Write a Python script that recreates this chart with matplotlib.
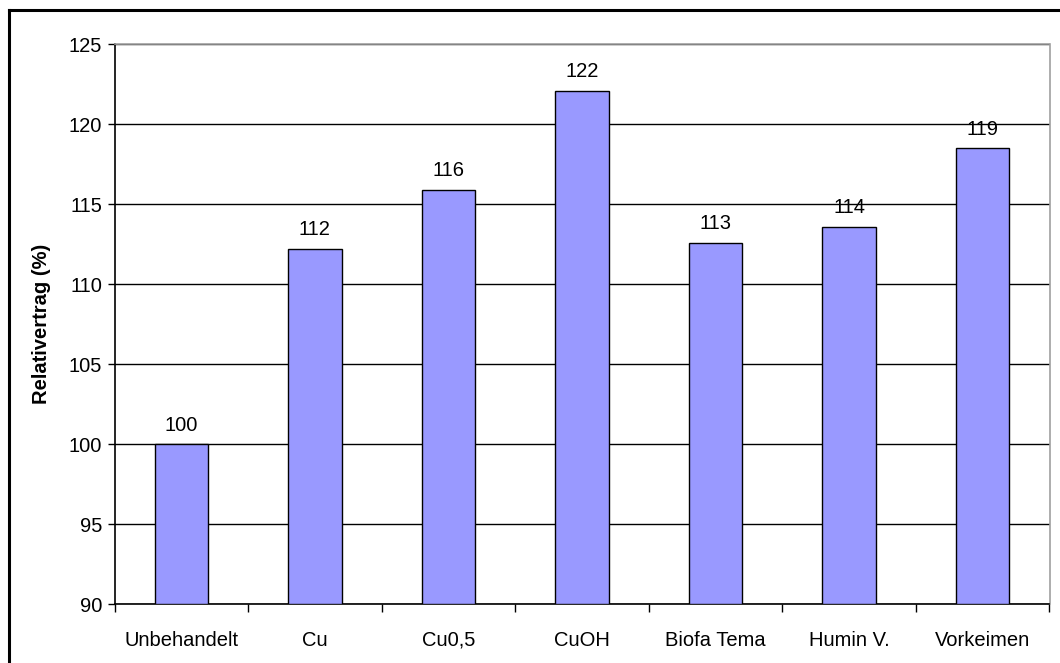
from matplotlib import pyplot as plt
from matplotlib.lines import Line2D

plt.rcParams['font.family'] = ['Liberation Sans', 'DejaVu Sans']

categories = ["Unbehandelt", "Cu", "Cu0,5", "CuOH", "Biofa Tema", "Humin V.", "Vorkeimen"]
values = [100.0, 112.2, 115.9, 122.1, 112.6, 113.6, 118.5]
bar_labels = ["100", "112", "116", "122", "113", "114", "119"]
yticks = [90, 95, 100, 105, 110, 115, 120, 125]

W, H = 1060, 663
fig = plt.figure(figsize=(W / 100, H / 100), dpi=100)
ax = fig.add_axes([114.5 / W, 1 - 604.3 / H, (1049.5 - 114.5) / W, (604.3 - 44.3) / H])

x = list(range(len(categories)))
ax.bar(x, [v - 90 for v in values], bottom=90, width=0.4, color="#9999FF",
       edgecolor="black", linewidth=1.0, zorder=3)

fs = 14.5
for xi, v, lab in zip(x, values, bar_labels):
    ax.annotate(lab, (xi, v), xytext=(0, 7), textcoords="offset points",
                ha="center", va="bottom", fontsize=fs, zorder=4)

ax.set_xlim(-0.5, len(categories) - 0.5)
ax.set_ylim(90, 125)
ax.set_yticks(yticks)
ax.tick_params(axis="y", length=5, width=1, labelsize=fs, pad=4, direction="out")
ax.yaxis.grid(True, color="black", linewidth=1, zorder=0)
ax.set_axisbelow(True)

# category labels centred, ticks on the boundaries
ax.set_xticks(x)
ax.set_xticklabels(categories, fontsize=fs)
ax.tick_params(axis="x", which="major", length=0, pad=19)
ax.set_xticks([i - 0.5 for i in range(len(categories) + 1)], minor=True)
ax.tick_params(axis="x", which="minor", length=6, width=1, direction="out")

ax.set_ylabel("Relativertrag (%)", fontsize=fs, fontweight="bold", labelpad=13)

ax.spines["left"].set_color("black")
ax.spines["bottom"].set_color("black")
ax.spines["top"].set_color("#a0a0a0")
ax.spines["right"].set_color("#a0a0a0")
for s in ax.spines.values():
    s.set_linewidth(1.2)

# outer chart border (only left and top visible in the frame)
fig.add_artist(Line2D([9 / W, 9 / W], [0, 1 - 9.5 / H], color="black", linewidth=2.2,
                      transform=fig.transFigure))
fig.add_artist(Line2D([9 / W, 1], [1 - 9.5 / H, 1 - 9.5 / H], color="black", linewidth=2.2,
                      transform=fig.transFigure))

fig.savefig("out.png", dpi=100)
